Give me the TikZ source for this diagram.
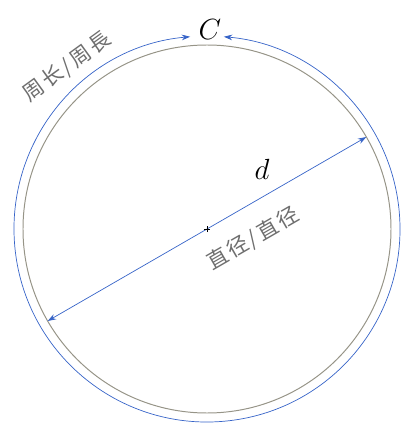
\documentclass[tikz,border=0pt]{standalone}
\usepackage{fontspec}
\newfontfamily\cjk{Noto Sans CJK SC}
\usepackage{tikz}
\usetikzlibrary{arrows.meta,positioning,calc}
\usepackage{xcolor}
\definecolor{lineblue}{RGB}{55,100,200}
\definecolor{rimgray}{RGB}{150,148,135}
\definecolor{labelgray}{RGB}{110,110,110}

\begin{document}
\begin{tikzpicture}[
    rim/.style={draw=rimgray, line width=0.7pt},
    measure/.style={draw=lineblue, line width=0.5pt, {Stealth[length=6pt,width=4pt]}-{Stealth[length=6pt,width=4pt]}},
    hanzi/.style={font=\cjk\fontsize{15}{15}\selectfont\addfontfeature{LetterSpace=12}, text=labelgray, inner sep=1pt},
    letter/.style={font=\fontsize{22}{22}\selectfont\itshape}
]
\useasboundingbox (-5.175,-4.875) rectangle (4.95,5.725);
\coordinate (o) at (0,0);

% circle and circumference
\draw[rim] (o) circle (4.6);
\coordinate (cL) at (95:4.825);
\coordinate (cR) at (85:4.825);
\draw[measure] (cL) arc (95:445:4.825);
\node[letter] (circ) at (0.075,4.98) {$C$};
\node[hanzi, rotate=36] (circtxt) at (-3.5,4.05) {周长/周長};

% diameter
\coordinate (dA) at (210:4.6);
\coordinate (dB) at (30:4.6);
\draw[measure] (dA) -- (dB);
\draw[line width=0.6pt] ($(o)+(-0.08,0)$) -- ($(o)+(0.08,0)$);
\draw[line width=0.6pt] ($(o)+(0,-0.08)$) -- ($(o)+(0,0.08)$);
\node[letter] (diam) at (1.375,1.5) {$d$};
\node[hanzi, rotate=30] (diamtxt) at (1.15,-0.25) {直径/直径};
\end{tikzpicture}
\end{document}
